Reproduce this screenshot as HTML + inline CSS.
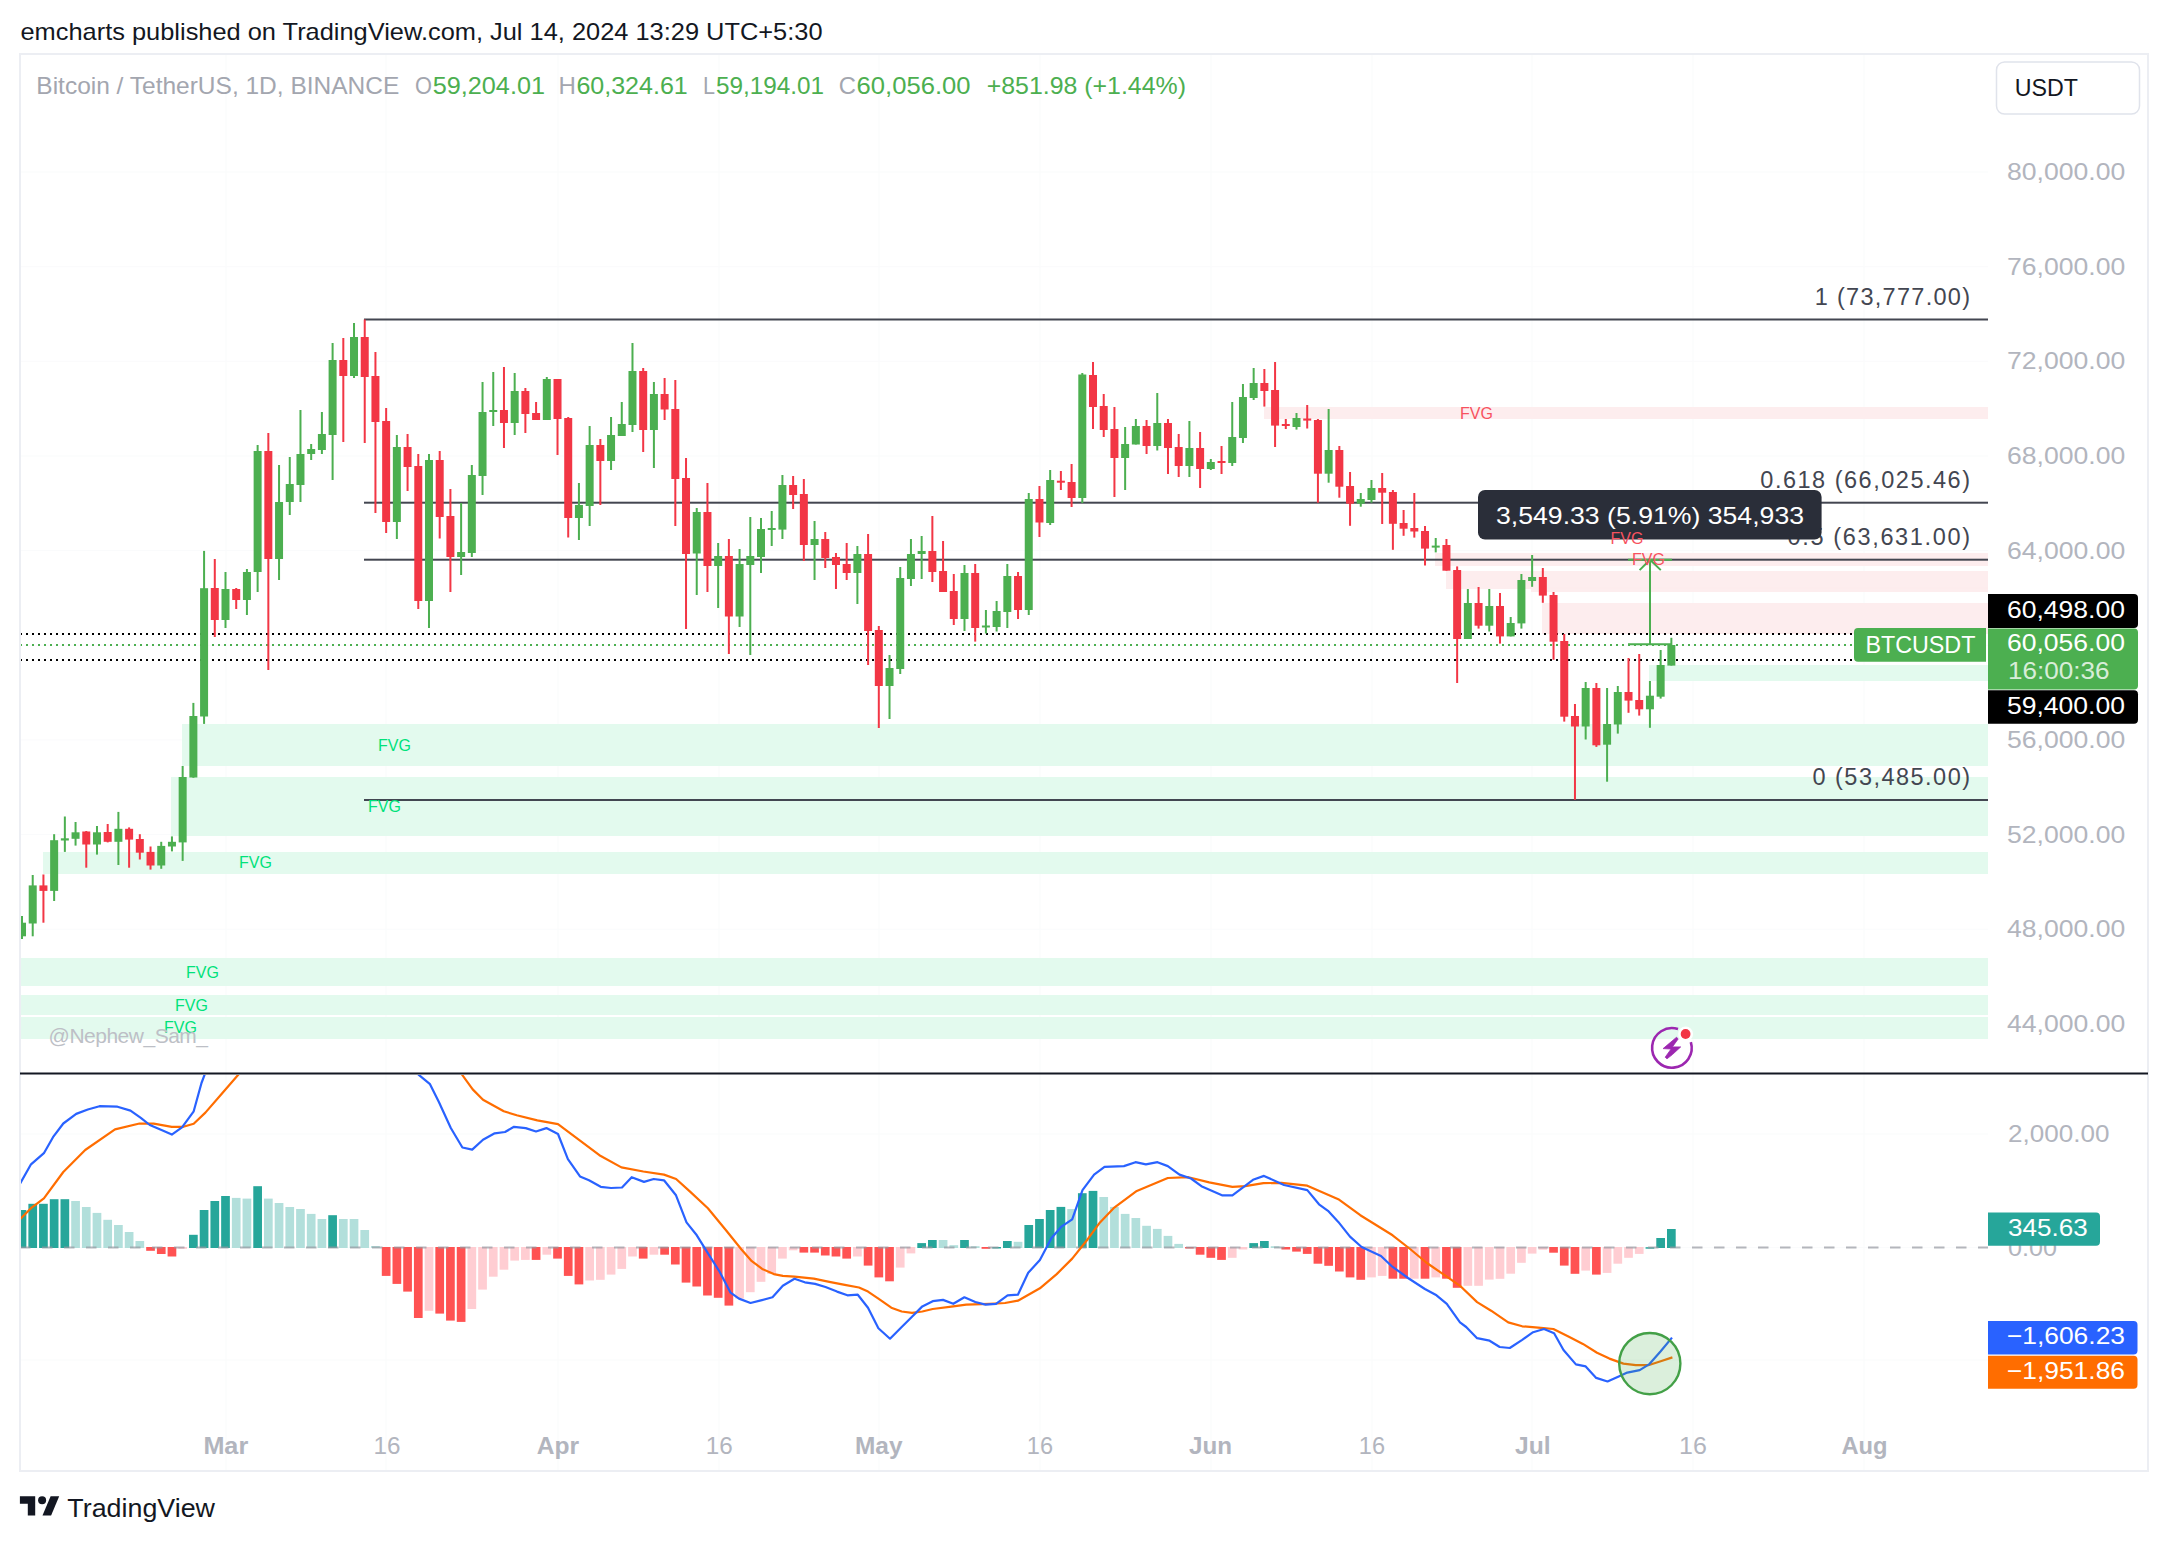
<!DOCTYPE html><html><head><meta charset="utf-8"><style>
html,body{margin:0;padding:0;background:#fff;width:2168px;height:1542px;overflow:hidden}
svg{display:block}text{font-family:"Liberation Sans",sans-serif}
</style></head><body>
<svg width="2168" height="1542" viewBox="0 0 2168 1542">
<defs><clipPath id="pp"><rect x="21" y="55" width="1967" height="1017"/></clipPath>
<clipPath id="mp"><rect x="21" y="1075" width="1967" height="345"/></clipPath></defs>
<rect x="0" y="0" width="2168" height="1542" fill="#fff"/>
<text x="20.5" y="40.4" font-size="24" fill="#131722" textLength="802" lengthAdjust="spacingAndGlyphs">emcharts published on TradingView.com, Jul 14, 2024 13:29 UTC+5:30</text>
<rect x="20" y="54" width="2128" height="1417" fill="none" stroke="#eceef3" stroke-width="2"/>
<rect x="225.5" y="55" width="1" height="1415" fill="#fafbfc"/>
<rect x="385.5" y="55" width="1" height="1415" fill="#fafbfc"/>
<rect x="557.5" y="55" width="1" height="1415" fill="#fafbfc"/>
<rect x="718.5" y="55" width="1" height="1415" fill="#fafbfc"/>
<rect x="878.5" y="55" width="1" height="1415" fill="#fafbfc"/>
<rect x="1039.5" y="55" width="1" height="1415" fill="#fafbfc"/>
<rect x="1210.5" y="55" width="1" height="1415" fill="#fafbfc"/>
<rect x="1371.5" y="55" width="1" height="1415" fill="#fafbfc"/>
<rect x="1531.5" y="55" width="1" height="1415" fill="#fafbfc"/>
<rect x="1692.5" y="55" width="1" height="1415" fill="#fafbfc"/>
<rect x="1863.5" y="55" width="1" height="1415" fill="#fafbfc"/>
<rect x="21" y="171.5" width="1967" height="1" fill="#fafbfc"/>
<rect x="21" y="266.2" width="1967" height="1" fill="#fafbfc"/>
<rect x="21" y="360.8" width="1967" height="1" fill="#fafbfc"/>
<rect x="21" y="455.5" width="1967" height="1" fill="#fafbfc"/>
<rect x="21" y="550.1" width="1967" height="1" fill="#fafbfc"/>
<rect x="21" y="644.8" width="1967" height="1" fill="#fafbfc"/>
<rect x="21" y="739.4" width="1967" height="1" fill="#fafbfc"/>
<rect x="21" y="834.1" width="1967" height="1" fill="#fafbfc"/>
<rect x="21" y="928.7" width="1967" height="1" fill="#fafbfc"/>
<rect x="21" y="1023.4" width="1967" height="1" fill="#fafbfc"/>
<rect x="21" y="1133.5" width="1967" height="1" fill="#fafbfc"/>
<rect x="21" y="1247.0" width="1967" height="1" fill="#fafbfc"/>
<rect x="21" y="1359.5" width="1967" height="1" fill="#fafbfc"/>
<g clip-path="url(#pp)">
<rect x="182" y="724" width="1806" height="42" fill="#e3faee"/>
<rect x="171" y="777" width="1817" height="59" fill="#e3faee"/>
<rect x="43" y="852" width="1945" height="22" fill="#e3faee"/>
<rect x="20" y="958" width="1968" height="28" fill="#e3faee"/>
<rect x="20" y="995" width="1968" height="20" fill="#e3faee"/>
<rect x="20" y="1017" width="1968" height="22" fill="#e3faee"/>
<rect x="1649" y="665" width="339" height="16" fill="#e3faee"/>
<rect x="1264" y="407" width="724" height="12" fill="#fdebec" fill-opacity="0.9"/>
<rect x="1435" y="553" width="553" height="13" fill="#fdebec" fill-opacity="0.9"/>
<rect x="1446" y="571" width="542" height="18" fill="#fdebec" fill-opacity="0.9"/>
<rect x="1531" y="587" width="457" height="5" fill="#fdebec" fill-opacity="0.9"/>
<rect x="1542" y="603" width="446" height="31" fill="#fdebec" fill-opacity="0.9"/>
<rect x="364" y="318.5" width="1624" height="2" fill="#434651"/>
<rect x="364" y="501.7" width="1624" height="2" fill="#434651"/>
<rect x="364" y="558.7" width="1624" height="2" fill="#434651"/>
<rect x="364" y="799.0" width="1624" height="2" fill="#434651"/>
<line x1="21" y1="634" x2="1854" y2="634" stroke="#000" stroke-width="2" stroke-dasharray="2 4" stroke-dashoffset="1"/>
<line x1="21" y1="645" x2="1854" y2="645" stroke="#4caf50" stroke-width="2" stroke-dasharray="2 4" stroke-dashoffset="1"/>
<line x1="21" y1="660" x2="1854" y2="660" stroke="#000" stroke-width="2" stroke-dasharray="2 4" stroke-dashoffset="1"/>
<rect x="21.01" y="916.0" width="2" height="23.0" fill="#4caf50"/>
<rect x="18.01" y="922.7" width="8" height="13.6" fill="#4caf50"/>
<rect x="31.72" y="875.0" width="2" height="61.3" fill="#4caf50"/>
<rect x="28.72" y="885.4" width="8" height="38.1" fill="#4caf50"/>
<rect x="42.43" y="874.5" width="2" height="48.2" fill="#f23645"/>
<rect x="39.43" y="885.4" width="8" height="5.5" fill="#f23645"/>
<rect x="53.14" y="834.2" width="2" height="66.8" fill="#4caf50"/>
<rect x="50.14" y="840.2" width="8" height="50.7" fill="#4caf50"/>
<rect x="63.85" y="816.5" width="2" height="35.4" fill="#4caf50"/>
<rect x="60.85" y="838.3" width="8" height="2.2" fill="#4caf50"/>
<rect x="74.56" y="822.0" width="2" height="23.6" fill="#4caf50"/>
<rect x="71.56" y="832.3" width="8" height="6.5" fill="#4caf50"/>
<rect x="85.27" y="831.0" width="2" height="36.7" fill="#f23645"/>
<rect x="82.27" y="831.5" width="8" height="13.0" fill="#f23645"/>
<rect x="95.98" y="826.0" width="2" height="28.6" fill="#4caf50"/>
<rect x="92.98" y="832.3" width="8" height="12.2" fill="#4caf50"/>
<rect x="106.69" y="824.0" width="2" height="18.4" fill="#f23645"/>
<rect x="103.69" y="832.0" width="8" height="9.8" fill="#f23645"/>
<rect x="117.40" y="811.9" width="2" height="53.1" fill="#4caf50"/>
<rect x="114.40" y="828.8" width="8" height="13.0" fill="#4caf50"/>
<rect x="128.11" y="827.4" width="2" height="40.3" fill="#f23645"/>
<rect x="125.11" y="828.8" width="8" height="10.8" fill="#f23645"/>
<rect x="138.82" y="834.2" width="2" height="25.3" fill="#f23645"/>
<rect x="135.82" y="839.0" width="8" height="13.7" fill="#f23645"/>
<rect x="149.53" y="846.5" width="2" height="23.1" fill="#f23645"/>
<rect x="146.53" y="851.9" width="8" height="13.6" fill="#f23645"/>
<rect x="160.24" y="841.8" width="2" height="27.0" fill="#4caf50"/>
<rect x="157.24" y="845.9" width="8" height="19.6" fill="#4caf50"/>
<rect x="170.95" y="836.4" width="2" height="15.0" fill="#4caf50"/>
<rect x="167.95" y="841.8" width="8" height="4.7" fill="#4caf50"/>
<rect x="181.66" y="766.0" width="2" height="94.9" fill="#4caf50"/>
<rect x="178.66" y="777.0" width="8" height="65.4" fill="#4caf50"/>
<rect x="192.37" y="702.9" width="2" height="74.9" fill="#4caf50"/>
<rect x="189.37" y="716.0" width="8" height="61.5" fill="#4caf50"/>
<rect x="203.08" y="550.9" width="2" height="173.0" fill="#4caf50"/>
<rect x="200.08" y="588.2" width="8" height="128.3" fill="#4caf50"/>
<rect x="213.79" y="559.0" width="2" height="78.0" fill="#f23645"/>
<rect x="210.79" y="588.0" width="8" height="32.0" fill="#f23645"/>
<rect x="224.50" y="572.0" width="2" height="56.0" fill="#4caf50"/>
<rect x="221.50" y="589.0" width="8" height="31.0" fill="#4caf50"/>
<rect x="235.21" y="588.0" width="2" height="21.0" fill="#f23645"/>
<rect x="232.21" y="589.0" width="8" height="11.0" fill="#f23645"/>
<rect x="245.92" y="569.0" width="2" height="46.0" fill="#4caf50"/>
<rect x="242.92" y="572.0" width="8" height="28.0" fill="#4caf50"/>
<rect x="256.63" y="445.0" width="2" height="147.0" fill="#4caf50"/>
<rect x="253.63" y="451.0" width="8" height="121.0" fill="#4caf50"/>
<rect x="267.34" y="433.0" width="2" height="237.0" fill="#f23645"/>
<rect x="264.34" y="451.0" width="8" height="108.0" fill="#f23645"/>
<rect x="278.05" y="465.0" width="2" height="115.0" fill="#4caf50"/>
<rect x="275.05" y="502.0" width="8" height="57.0" fill="#4caf50"/>
<rect x="288.76" y="457.0" width="2" height="58.0" fill="#4caf50"/>
<rect x="285.76" y="484.0" width="8" height="18.0" fill="#4caf50"/>
<rect x="299.47" y="410.0" width="2" height="92.0" fill="#4caf50"/>
<rect x="296.47" y="454.0" width="8" height="31.0" fill="#4caf50"/>
<rect x="310.18" y="444.0" width="2" height="16.0" fill="#4caf50"/>
<rect x="307.18" y="449.0" width="8" height="5.0" fill="#4caf50"/>
<rect x="320.89" y="412.0" width="2" height="42.0" fill="#4caf50"/>
<rect x="317.89" y="434.0" width="8" height="16.0" fill="#4caf50"/>
<rect x="331.60" y="343.0" width="2" height="137.0" fill="#4caf50"/>
<rect x="328.60" y="360.0" width="8" height="75.0" fill="#4caf50"/>
<rect x="342.31" y="338.0" width="2" height="104.0" fill="#f23645"/>
<rect x="339.31" y="360.0" width="8" height="16.0" fill="#f23645"/>
<rect x="353.02" y="323.0" width="2" height="55.0" fill="#4caf50"/>
<rect x="350.02" y="337.0" width="8" height="39.0" fill="#4caf50"/>
<rect x="363.73" y="319.5" width="2" height="123.5" fill="#f23645"/>
<rect x="360.73" y="337.0" width="8" height="40.0" fill="#f23645"/>
<rect x="374.44" y="352.0" width="2" height="161.0" fill="#f23645"/>
<rect x="371.44" y="376.0" width="8" height="46.0" fill="#f23645"/>
<rect x="385.15" y="408.0" width="2" height="125.0" fill="#f23645"/>
<rect x="382.15" y="421.0" width="8" height="101.0" fill="#f23645"/>
<rect x="395.86" y="435.0" width="2" height="104.0" fill="#4caf50"/>
<rect x="392.86" y="447.0" width="8" height="75.0" fill="#4caf50"/>
<rect x="406.57" y="434.0" width="2" height="57.0" fill="#f23645"/>
<rect x="403.57" y="447.0" width="8" height="20.0" fill="#f23645"/>
<rect x="417.28" y="454.0" width="2" height="155.0" fill="#f23645"/>
<rect x="414.28" y="466.0" width="8" height="135.0" fill="#f23645"/>
<rect x="427.99" y="454.0" width="2" height="174.0" fill="#4caf50"/>
<rect x="424.99" y="460.0" width="8" height="141.0" fill="#4caf50"/>
<rect x="438.70" y="451.0" width="2" height="87.5" fill="#f23645"/>
<rect x="435.70" y="460.0" width="8" height="57.0" fill="#f23645"/>
<rect x="449.41" y="489.0" width="2" height="103.0" fill="#f23645"/>
<rect x="446.41" y="516.0" width="8" height="41.0" fill="#f23645"/>
<rect x="460.12" y="503.0" width="2" height="72.0" fill="#4caf50"/>
<rect x="457.12" y="552.0" width="8" height="5.0" fill="#4caf50"/>
<rect x="470.83" y="465.0" width="2" height="92.0" fill="#4caf50"/>
<rect x="467.83" y="475.0" width="8" height="78.0" fill="#4caf50"/>
<rect x="481.54" y="382.0" width="2" height="113.0" fill="#4caf50"/>
<rect x="478.54" y="412.0" width="8" height="64.0" fill="#4caf50"/>
<rect x="492.25" y="372.0" width="2" height="54.0" fill="#4caf50"/>
<rect x="489.25" y="410.0" width="8" height="2.0" fill="#4caf50"/>
<rect x="502.96" y="367.0" width="2" height="81.0" fill="#f23645"/>
<rect x="499.96" y="410.0" width="8" height="13.0" fill="#f23645"/>
<rect x="513.67" y="373.0" width="2" height="62.0" fill="#4caf50"/>
<rect x="510.67" y="391.0" width="8" height="32.0" fill="#4caf50"/>
<rect x="524.38" y="388.0" width="2" height="45.0" fill="#f23645"/>
<rect x="521.38" y="391.0" width="8" height="23.0" fill="#f23645"/>
<rect x="535.09" y="402.0" width="2" height="18.0" fill="#f23645"/>
<rect x="532.09" y="413.0" width="8" height="7.0" fill="#f23645"/>
<rect x="545.80" y="377.0" width="2" height="43.0" fill="#4caf50"/>
<rect x="542.80" y="379.0" width="8" height="41.0" fill="#4caf50"/>
<rect x="556.51" y="379.0" width="2" height="76.0" fill="#f23645"/>
<rect x="553.51" y="379.0" width="8" height="40.0" fill="#f23645"/>
<rect x="567.22" y="417.0" width="2" height="120.5" fill="#f23645"/>
<rect x="564.22" y="418.0" width="8" height="100.0" fill="#f23645"/>
<rect x="577.93" y="483.0" width="2" height="57.0" fill="#4caf50"/>
<rect x="574.93" y="505.0" width="8" height="13.0" fill="#4caf50"/>
<rect x="588.64" y="426.0" width="2" height="100.0" fill="#4caf50"/>
<rect x="585.64" y="445.0" width="8" height="61.0" fill="#4caf50"/>
<rect x="599.35" y="439.0" width="2" height="66.0" fill="#f23645"/>
<rect x="596.35" y="445.0" width="8" height="16.0" fill="#f23645"/>
<rect x="610.06" y="417.0" width="2" height="53.0" fill="#4caf50"/>
<rect x="607.06" y="435.0" width="8" height="26.0" fill="#4caf50"/>
<rect x="620.77" y="402.0" width="2" height="34.0" fill="#4caf50"/>
<rect x="617.77" y="424.0" width="8" height="12.0" fill="#4caf50"/>
<rect x="631.48" y="343.0" width="2" height="89.0" fill="#4caf50"/>
<rect x="628.48" y="371.0" width="8" height="54.0" fill="#4caf50"/>
<rect x="642.19" y="368.0" width="2" height="84.0" fill="#f23645"/>
<rect x="639.19" y="371.0" width="8" height="59.0" fill="#f23645"/>
<rect x="652.90" y="382.0" width="2" height="86.0" fill="#4caf50"/>
<rect x="649.90" y="394.0" width="8" height="36.0" fill="#4caf50"/>
<rect x="663.61" y="378.0" width="2" height="42.0" fill="#f23645"/>
<rect x="660.61" y="394.0" width="8" height="15.5" fill="#f23645"/>
<rect x="674.32" y="380.0" width="2" height="146.0" fill="#f23645"/>
<rect x="671.32" y="409.0" width="8" height="70.0" fill="#f23645"/>
<rect x="685.03" y="458.0" width="2" height="171.0" fill="#f23645"/>
<rect x="682.03" y="478.0" width="8" height="76.0" fill="#f23645"/>
<rect x="695.74" y="508.0" width="2" height="87.0" fill="#4caf50"/>
<rect x="692.74" y="512.0" width="8" height="41.5" fill="#4caf50"/>
<rect x="706.45" y="483.0" width="2" height="109.0" fill="#f23645"/>
<rect x="703.45" y="512.0" width="8" height="54.0" fill="#f23645"/>
<rect x="717.16" y="543.0" width="2" height="65.0" fill="#4caf50"/>
<rect x="714.16" y="556.0" width="8" height="10.0" fill="#4caf50"/>
<rect x="727.87" y="539.0" width="2" height="115.0" fill="#f23645"/>
<rect x="724.87" y="556.0" width="8" height="60.5" fill="#f23645"/>
<rect x="738.58" y="549.0" width="2" height="78.0" fill="#4caf50"/>
<rect x="735.58" y="564.0" width="8" height="52.5" fill="#4caf50"/>
<rect x="749.29" y="517.0" width="2" height="138.0" fill="#4caf50"/>
<rect x="746.29" y="556.0" width="8" height="9.0" fill="#4caf50"/>
<rect x="760.00" y="518.0" width="2" height="55.0" fill="#4caf50"/>
<rect x="757.00" y="529.0" width="8" height="28.0" fill="#4caf50"/>
<rect x="770.71" y="511.0" width="2" height="35.0" fill="#4caf50"/>
<rect x="767.71" y="528.0" width="8" height="2.0" fill="#4caf50"/>
<rect x="781.42" y="475.0" width="2" height="64.0" fill="#4caf50"/>
<rect x="778.42" y="485.0" width="8" height="44.6" fill="#4caf50"/>
<rect x="792.13" y="476.0" width="2" height="33.0" fill="#f23645"/>
<rect x="789.13" y="485.0" width="8" height="10.0" fill="#f23645"/>
<rect x="802.84" y="479.0" width="2" height="82.0" fill="#f23645"/>
<rect x="799.84" y="494.0" width="8" height="51.0" fill="#f23645"/>
<rect x="813.55" y="521.0" width="2" height="59.0" fill="#4caf50"/>
<rect x="810.55" y="539.0" width="8" height="6.0" fill="#4caf50"/>
<rect x="824.26" y="532.0" width="2" height="36.0" fill="#f23645"/>
<rect x="821.26" y="539.0" width="8" height="19.0" fill="#f23645"/>
<rect x="834.97" y="553.0" width="2" height="36.0" fill="#f23645"/>
<rect x="831.97" y="557.0" width="8" height="8.0" fill="#f23645"/>
<rect x="845.68" y="543.0" width="2" height="37.0" fill="#f23645"/>
<rect x="842.68" y="564.0" width="8" height="9.0" fill="#f23645"/>
<rect x="856.39" y="546.0" width="2" height="58.0" fill="#4caf50"/>
<rect x="853.39" y="554.0" width="8" height="19.0" fill="#4caf50"/>
<rect x="867.10" y="534.0" width="2" height="131.0" fill="#f23645"/>
<rect x="864.10" y="554.0" width="8" height="77.0" fill="#f23645"/>
<rect x="877.81" y="626.0" width="2" height="102.0" fill="#f23645"/>
<rect x="874.81" y="630.0" width="8" height="56.0" fill="#f23645"/>
<rect x="888.52" y="655.0" width="2" height="64.0" fill="#4caf50"/>
<rect x="885.52" y="668.0" width="8" height="18.0" fill="#4caf50"/>
<rect x="899.23" y="567.0" width="2" height="107.0" fill="#4caf50"/>
<rect x="896.23" y="578.0" width="8" height="91.0" fill="#4caf50"/>
<rect x="909.94" y="539.0" width="2" height="47.0" fill="#4caf50"/>
<rect x="906.94" y="554.0" width="8" height="25.0" fill="#4caf50"/>
<rect x="920.65" y="536.0" width="2" height="43.0" fill="#4caf50"/>
<rect x="917.65" y="551.0" width="8" height="3.0" fill="#4caf50"/>
<rect x="931.36" y="516.0" width="2" height="66.0" fill="#f23645"/>
<rect x="928.36" y="551.0" width="8" height="21.0" fill="#f23645"/>
<rect x="942.07" y="541.0" width="2" height="51.0" fill="#f23645"/>
<rect x="939.07" y="571.0" width="8" height="21.0" fill="#f23645"/>
<rect x="952.78" y="574.0" width="2" height="51.0" fill="#f23645"/>
<rect x="949.78" y="591.0" width="8" height="28.0" fill="#f23645"/>
<rect x="963.49" y="565.0" width="2" height="66.0" fill="#4caf50"/>
<rect x="960.49" y="573.0" width="8" height="46.0" fill="#4caf50"/>
<rect x="974.20" y="564.0" width="2" height="77.6" fill="#f23645"/>
<rect x="971.20" y="573.0" width="8" height="55.0" fill="#f23645"/>
<rect x="984.91" y="610.0" width="2" height="23.5" fill="#4caf50"/>
<rect x="981.91" y="625.5" width="8" height="2.0" fill="#4caf50"/>
<rect x="995.62" y="601.0" width="2" height="30.5" fill="#4caf50"/>
<rect x="992.62" y="611.0" width="8" height="16.0" fill="#4caf50"/>
<rect x="1006.33" y="564.0" width="2" height="64.0" fill="#4caf50"/>
<rect x="1003.33" y="576.0" width="8" height="36.0" fill="#4caf50"/>
<rect x="1017.04" y="572.0" width="2" height="47.0" fill="#f23645"/>
<rect x="1014.04" y="576.0" width="8" height="34.0" fill="#f23645"/>
<rect x="1027.75" y="493.0" width="2" height="122.0" fill="#4caf50"/>
<rect x="1024.75" y="499.0" width="8" height="111.0" fill="#4caf50"/>
<rect x="1038.46" y="486.0" width="2" height="51.0" fill="#f23645"/>
<rect x="1035.46" y="499.0" width="8" height="23.5" fill="#f23645"/>
<rect x="1049.17" y="470.0" width="2" height="55.0" fill="#4caf50"/>
<rect x="1046.17" y="480.0" width="8" height="43.0" fill="#4caf50"/>
<rect x="1059.88" y="471.0" width="2" height="19.0" fill="#f23645"/>
<rect x="1056.88" y="480.7" width="8" height="2.0" fill="#f23645"/>
<rect x="1070.59" y="464.0" width="2" height="43.0" fill="#f23645"/>
<rect x="1067.59" y="482.0" width="8" height="16.0" fill="#f23645"/>
<rect x="1081.30" y="373.0" width="2" height="130.0" fill="#4caf50"/>
<rect x="1078.30" y="374.5" width="8" height="123.5" fill="#4caf50"/>
<rect x="1092.01" y="362.0" width="2" height="67.0" fill="#f23645"/>
<rect x="1089.01" y="375.0" width="8" height="32.0" fill="#f23645"/>
<rect x="1102.72" y="394.0" width="2" height="43.0" fill="#f23645"/>
<rect x="1099.72" y="406.0" width="8" height="24.0" fill="#f23645"/>
<rect x="1113.43" y="407.0" width="2" height="90.0" fill="#f23645"/>
<rect x="1110.43" y="429.0" width="8" height="29.0" fill="#f23645"/>
<rect x="1124.14" y="427.0" width="2" height="63.0" fill="#4caf50"/>
<rect x="1121.14" y="444.0" width="8" height="14.0" fill="#4caf50"/>
<rect x="1134.85" y="419.0" width="2" height="25.5" fill="#4caf50"/>
<rect x="1131.85" y="426.0" width="8" height="18.5" fill="#4caf50"/>
<rect x="1145.56" y="420.0" width="2" height="34.0" fill="#f23645"/>
<rect x="1142.56" y="426.0" width="8" height="20.0" fill="#f23645"/>
<rect x="1156.27" y="393.0" width="2" height="57.5" fill="#4caf50"/>
<rect x="1153.27" y="423.0" width="8" height="23.0" fill="#4caf50"/>
<rect x="1166.98" y="419.0" width="2" height="55.0" fill="#f23645"/>
<rect x="1163.98" y="423.0" width="8" height="25.0" fill="#f23645"/>
<rect x="1177.69" y="434.0" width="2" height="43.0" fill="#f23645"/>
<rect x="1174.69" y="447.0" width="8" height="19.0" fill="#f23645"/>
<rect x="1188.40" y="421.0" width="2" height="56.0" fill="#4caf50"/>
<rect x="1185.40" y="448.0" width="8" height="18.0" fill="#4caf50"/>
<rect x="1199.11" y="432.0" width="2" height="56.0" fill="#f23645"/>
<rect x="1196.11" y="448.0" width="8" height="21.0" fill="#f23645"/>
<rect x="1209.82" y="459.0" width="2" height="11.0" fill="#4caf50"/>
<rect x="1206.82" y="462.0" width="8" height="7.0" fill="#4caf50"/>
<rect x="1220.53" y="446.0" width="2" height="28.0" fill="#f23645"/>
<rect x="1217.53" y="461.0" width="8" height="2.0" fill="#f23645"/>
<rect x="1231.24" y="402.0" width="2" height="64.0" fill="#4caf50"/>
<rect x="1228.24" y="437.0" width="8" height="26.0" fill="#4caf50"/>
<rect x="1241.95" y="384.0" width="2" height="59.0" fill="#4caf50"/>
<rect x="1238.95" y="397.0" width="8" height="41.0" fill="#4caf50"/>
<rect x="1252.66" y="368.0" width="2" height="32.0" fill="#4caf50"/>
<rect x="1249.66" y="383.0" width="8" height="15.0" fill="#4caf50"/>
<rect x="1263.37" y="369.0" width="2" height="37.6" fill="#f23645"/>
<rect x="1260.37" y="383.0" width="8" height="8.0" fill="#f23645"/>
<rect x="1274.08" y="362.0" width="2" height="85.0" fill="#f23645"/>
<rect x="1271.08" y="390.0" width="8" height="35.6" fill="#f23645"/>
<rect x="1284.79" y="419.0" width="2" height="10.0" fill="#f23645"/>
<rect x="1281.79" y="424.0" width="8" height="2.0" fill="#f23645"/>
<rect x="1295.50" y="413.0" width="2" height="16.6" fill="#4caf50"/>
<rect x="1292.50" y="418.0" width="8" height="9.0" fill="#4caf50"/>
<rect x="1306.21" y="405.0" width="2" height="23.5" fill="#f23645"/>
<rect x="1303.21" y="418.5" width="8" height="2.1" fill="#f23645"/>
<rect x="1316.92" y="419.0" width="2" height="83.7" fill="#f23645"/>
<rect x="1313.92" y="420.0" width="8" height="53.7" fill="#f23645"/>
<rect x="1327.63" y="409.0" width="2" height="73.7" fill="#4caf50"/>
<rect x="1324.63" y="450.0" width="8" height="23.7" fill="#4caf50"/>
<rect x="1338.34" y="446.0" width="2" height="51.7" fill="#f23645"/>
<rect x="1335.34" y="450.0" width="8" height="36.7" fill="#f23645"/>
<rect x="1349.05" y="472.0" width="2" height="53.8" fill="#f23645"/>
<rect x="1346.05" y="486.0" width="8" height="17.7" fill="#f23645"/>
<rect x="1359.76" y="493.0" width="2" height="13.7" fill="#4caf50"/>
<rect x="1356.76" y="499.0" width="8" height="4.7" fill="#4caf50"/>
<rect x="1370.47" y="480.0" width="2" height="22.7" fill="#4caf50"/>
<rect x="1367.47" y="488.0" width="8" height="12.0" fill="#4caf50"/>
<rect x="1381.18" y="473.0" width="2" height="51.0" fill="#f23645"/>
<rect x="1378.18" y="488.0" width="8" height="4.7" fill="#f23645"/>
<rect x="1391.89" y="490.0" width="2" height="59.8" fill="#f23645"/>
<rect x="1388.89" y="492.0" width="8" height="31.8" fill="#f23645"/>
<rect x="1402.60" y="510.0" width="2" height="25.8" fill="#f23645"/>
<rect x="1399.60" y="523.0" width="8" height="5.7" fill="#f23645"/>
<rect x="1413.31" y="493.0" width="2" height="44.6" fill="#f23645"/>
<rect x="1410.31" y="528.0" width="8" height="3.5" fill="#f23645"/>
<rect x="1424.02" y="526.0" width="2" height="39.5" fill="#f23645"/>
<rect x="1421.02" y="531.0" width="8" height="17.6" fill="#f23645"/>
<rect x="1434.73" y="538.0" width="2" height="14.4" fill="#4caf50"/>
<rect x="1431.73" y="545.6" width="8" height="2.0" fill="#4caf50"/>
<rect x="1445.44" y="539.0" width="2" height="31.7" fill="#f23645"/>
<rect x="1442.44" y="545.0" width="8" height="25.7" fill="#f23645"/>
<rect x="1456.15" y="566.4" width="2" height="116.6" fill="#f23645"/>
<rect x="1453.15" y="570.0" width="8" height="69.0" fill="#f23645"/>
<rect x="1466.86" y="589.0" width="2" height="50.0" fill="#4caf50"/>
<rect x="1463.86" y="603.0" width="8" height="36.0" fill="#4caf50"/>
<rect x="1477.57" y="587.0" width="2" height="41.6" fill="#f23645"/>
<rect x="1474.57" y="603.0" width="8" height="22.7" fill="#f23645"/>
<rect x="1488.28" y="589.0" width="2" height="42.5" fill="#4caf50"/>
<rect x="1485.28" y="606.0" width="8" height="19.7" fill="#4caf50"/>
<rect x="1498.99" y="593.0" width="2" height="50.6" fill="#f23645"/>
<rect x="1495.99" y="606.0" width="8" height="30.4" fill="#f23645"/>
<rect x="1509.70" y="617.0" width="2" height="19.4" fill="#4caf50"/>
<rect x="1506.70" y="623.0" width="8" height="13.4" fill="#4caf50"/>
<rect x="1520.41" y="574.0" width="2" height="54.6" fill="#4caf50"/>
<rect x="1517.41" y="580.0" width="8" height="43.4" fill="#4caf50"/>
<rect x="1531.12" y="555.0" width="2" height="31.8" fill="#4caf50"/>
<rect x="1528.12" y="577.0" width="8" height="4.0" fill="#4caf50"/>
<rect x="1541.83" y="568.0" width="2" height="34.8" fill="#f23645"/>
<rect x="1538.83" y="577.0" width="8" height="18.6" fill="#f23645"/>
<rect x="1552.54" y="592.0" width="2" height="67.7" fill="#f23645"/>
<rect x="1549.54" y="595.0" width="8" height="46.7" fill="#f23645"/>
<rect x="1563.25" y="634.0" width="2" height="87.6" fill="#f23645"/>
<rect x="1560.25" y="641.0" width="8" height="75.7" fill="#f23645"/>
<rect x="1573.96" y="704.0" width="2" height="95.8" fill="#f23645"/>
<rect x="1570.96" y="716.0" width="8" height="10.5" fill="#f23645"/>
<rect x="1584.67" y="682.0" width="2" height="57.5" fill="#4caf50"/>
<rect x="1581.67" y="688.0" width="8" height="38.5" fill="#4caf50"/>
<rect x="1595.38" y="683.0" width="2" height="63.9" fill="#f23645"/>
<rect x="1592.38" y="688.0" width="8" height="57.3" fill="#f23645"/>
<rect x="1606.09" y="688.0" width="2" height="93.7" fill="#4caf50"/>
<rect x="1603.09" y="724.0" width="8" height="20.7" fill="#4caf50"/>
<rect x="1616.80" y="686.0" width="2" height="47.6" fill="#4caf50"/>
<rect x="1613.80" y="692.0" width="8" height="32.5" fill="#4caf50"/>
<rect x="1627.51" y="658.0" width="2" height="54.8" fill="#f23645"/>
<rect x="1624.51" y="692.0" width="8" height="8.6" fill="#f23645"/>
<rect x="1638.22" y="654.0" width="2" height="61.6" fill="#f23645"/>
<rect x="1635.22" y="700.0" width="8" height="9.3" fill="#f23645"/>
<rect x="1648.93" y="681.0" width="2" height="46.8" fill="#4caf50"/>
<rect x="1645.93" y="695.7" width="8" height="13.6" fill="#4caf50"/>
<rect x="1659.64" y="650.0" width="2" height="48.6" fill="#4caf50"/>
<rect x="1656.64" y="665.0" width="8" height="31.7" fill="#4caf50"/>
<rect x="1670.35" y="637.8" width="2" height="27.8" fill="#4caf50"/>
<rect x="1667.35" y="645.0" width="8" height="20.6" fill="#4caf50"/>
<g stroke="#4caf50" stroke-width="2" fill="none"><path d="M1628 559.7H1672M1650 559.7V644.2M1628 644.2H1672M1639.6 570.1L1650 559.7L1660.8 570.1"/></g>
<text x="394.5" y="751.3" font-size="16" fill="#00e27a" text-anchor="middle">FVG</text>
<text x="384.5" y="811.8" font-size="16" fill="#00e27a" text-anchor="middle">FVG</text>
<text x="255.5" y="867.8" font-size="16" fill="#00e27a" text-anchor="middle">FVG</text>
<text x="202.5" y="977.8" font-size="16" fill="#00e27a" text-anchor="middle">FVG</text>
<text x="191.5" y="1010.5" font-size="16" fill="#00e27a" text-anchor="middle">FVG</text>
<text x="180.5" y="1032.8" font-size="16" fill="#00e27a" text-anchor="middle">FVG</text>
<text x="1476.5" y="418.8" font-size="16" fill="#f7525f" text-anchor="middle">FVG</text>
<text x="1814.8" y="304.8" font-size="23.5" fill="#434651" textLength="155.2" lengthAdjust="spacing">1 (73,777.00)</text>
<text x="1760.3" y="488.1" font-size="23.5" fill="#434651" textLength="209.7" lengthAdjust="spacing">0.618 (66,025.46)</text>
<text x="1787.5" y="545.3" font-size="23.5" fill="#434651" textLength="182.5" lengthAdjust="spacing">0.5 (63,631.00)</text>
<text x="1812.5" y="785.3" font-size="23.5" fill="#434651" textLength="157.5" lengthAdjust="spacing">0 (53,485.00)</text>
<rect x="1478" y="490" width="343.6" height="49.6" rx="7" fill="#2a2e39"/>
<text x="1496" y="524" font-size="24" fill="#fff" textLength="308" lengthAdjust="spacingAndGlyphs">3,549.33 (5.91%) 354,933</text>
<text x="1627" y="543.8" font-size="16" fill="#f7525f" text-anchor="middle">FVG</text>
<text x="1648.5" y="564.8" font-size="16" fill="#f7525f" text-anchor="middle">FVG</text>
<text x="48.6" y="1042.7" font-size="21" fill="#bdbfc6" textLength="159.4" lengthAdjust="spacing">@Nephew_Sam_</text>
<circle cx="1671.9" cy="1047.9" r="19.5" fill="#fff" fill-opacity="0.0"/>
<path d="M1690.83 1042.11 A19.8 19.8 0 1 1 1678.02 1029.07" fill="none" stroke="#9c27b0" stroke-width="2.6"/>
<path d="M1676.6 1037.2 L1678.1 1039.1 L1672.4 1046.9 L1680.7 1046.9 L1672.4 1054.6 L1667 1058.8 L1665.2 1057.2 L1671.1 1049.0 L1663.1 1048.6 Z" fill="#9c27b0" stroke="#9c27b0" stroke-width="0.8" stroke-linejoin="round"/>
<circle cx="1685.6" cy="1034" r="7.5" fill="#fff"/><circle cx="1685.6" cy="1034" r="4.9" fill="#f23645"/>
</g>
<text x="2007" y="179.9" font-size="24" fill="#b2b5be" textLength="118.3" lengthAdjust="spacingAndGlyphs">80,000.00</text>
<text x="2007" y="274.6" font-size="24" fill="#b2b5be" textLength="118.3" lengthAdjust="spacingAndGlyphs">76,000.00</text>
<text x="2007" y="369.2" font-size="24" fill="#b2b5be" textLength="118.3" lengthAdjust="spacingAndGlyphs">72,000.00</text>
<text x="2007" y="463.9" font-size="24" fill="#b2b5be" textLength="118.3" lengthAdjust="spacingAndGlyphs">68,000.00</text>
<text x="2007" y="558.5" font-size="24" fill="#b2b5be" textLength="118.3" lengthAdjust="spacingAndGlyphs">64,000.00</text>
<text x="2007" y="747.8" font-size="24" fill="#b2b5be" textLength="118.3" lengthAdjust="spacingAndGlyphs">56,000.00</text>
<text x="2007" y="842.5" font-size="24" fill="#b2b5be" textLength="118.3" lengthAdjust="spacingAndGlyphs">52,000.00</text>
<text x="2007" y="937.1" font-size="24" fill="#b2b5be" textLength="118.3" lengthAdjust="spacingAndGlyphs">48,000.00</text>
<text x="2007" y="1031.8" font-size="24" fill="#b2b5be" textLength="118.3" lengthAdjust="spacingAndGlyphs">44,000.00</text>
<path d="M1988 594H2134Q2138 594 2138 598V624Q2138 628 2134 628H1988Z" fill="#000"/>
<path d="M1988 628.6H2134Q2138 628.6 2138 632.6V685.4Q2138 689.4 2134 689.4H1988Z" fill="#4caf50"/>
<path d="M1988 690.3H2134Q2138 690.3 2138 694.3V719.7Q2138 723.7 2134 723.7H1988Z" fill="#000"/>
<path d="M1986 628V661.7H1858Q1854 661.7 1854 657.7V632Q1854 628 1858 628Z" fill="#4caf50"/>
<text x="2007" y="618.3" font-size="24" fill="#fff" textLength="118" lengthAdjust="spacingAndGlyphs">60,498.00</text>
<text x="2007" y="651.4" font-size="24" fill="#fff" textLength="118" lengthAdjust="spacingAndGlyphs">60,056.00</text>
<text x="2008" y="679" font-size="24" fill="#fff" fill-opacity="0.8" textLength="101.5" lengthAdjust="spacingAndGlyphs">16:00:36</text>
<text x="2007" y="713.6" font-size="24" fill="#fff" textLength="118" lengthAdjust="spacingAndGlyphs">59,400.00</text>
<text x="1865.4" y="653" font-size="24" fill="#fff" textLength="110" lengthAdjust="spacingAndGlyphs">BTCUSDT</text>
<rect x="20" y="1072.5" width="2128" height="2" fill="#131722"/>
<g clip-path="url(#mp)">
<rect x="17.66" y="1210.0" width="8.7" height="38.0" fill="#26a69a"/>
<rect x="28.37" y="1203.8" width="8.7" height="44.2" fill="#26a69a"/>
<rect x="39.08" y="1203.8" width="8.7" height="44.2" fill="#26a69a"/>
<rect x="49.79" y="1199.2" width="8.7" height="48.8" fill="#26a69a"/>
<rect x="60.50" y="1199.2" width="8.7" height="48.8" fill="#26a69a"/>
<rect x="71.21" y="1201.0" width="8.7" height="47.0" fill="#b2dfdb"/>
<rect x="81.92" y="1207.0" width="8.7" height="41.0" fill="#b2dfdb"/>
<rect x="92.63" y="1212.9" width="8.7" height="35.1" fill="#b2dfdb"/>
<rect x="103.34" y="1219.8" width="8.7" height="28.2" fill="#b2dfdb"/>
<rect x="114.05" y="1225.0" width="8.7" height="23.0" fill="#b2dfdb"/>
<rect x="124.76" y="1232.0" width="8.7" height="16.0" fill="#b2dfdb"/>
<rect x="135.47" y="1241.0" width="8.7" height="7.0" fill="#b2dfdb"/>
<rect x="146.18" y="1247.0" width="8.7" height="3.8" fill="#ff5252"/>
<rect x="156.89" y="1247.0" width="8.7" height="7.0" fill="#ff5252"/>
<rect x="167.60" y="1247.0" width="8.7" height="9.5" fill="#ff5252"/>
<rect x="178.31" y="1247.0" width="8.7" height="1.8" fill="#ffcdd2"/>
<rect x="189.02" y="1234.8" width="8.7" height="13.2" fill="#26a69a"/>
<rect x="199.73" y="1210.0" width="8.7" height="38.0" fill="#26a69a"/>
<rect x="210.44" y="1201.0" width="8.7" height="47.0" fill="#26a69a"/>
<rect x="221.15" y="1196.0" width="8.7" height="52.0" fill="#26a69a"/>
<rect x="231.86" y="1197.9" width="8.7" height="50.1" fill="#b2dfdb"/>
<rect x="242.57" y="1198.6" width="8.7" height="49.4" fill="#b2dfdb"/>
<rect x="253.28" y="1186.2" width="8.7" height="61.8" fill="#26a69a"/>
<rect x="263.99" y="1198.6" width="8.7" height="49.4" fill="#b2dfdb"/>
<rect x="274.70" y="1203.0" width="8.7" height="45.0" fill="#b2dfdb"/>
<rect x="285.41" y="1207.0" width="8.7" height="41.0" fill="#b2dfdb"/>
<rect x="296.12" y="1209.0" width="8.7" height="39.0" fill="#b2dfdb"/>
<rect x="306.83" y="1213.9" width="8.7" height="34.1" fill="#b2dfdb"/>
<rect x="317.54" y="1219.0" width="8.7" height="29.0" fill="#b2dfdb"/>
<rect x="328.25" y="1215.2" width="8.7" height="32.8" fill="#26a69a"/>
<rect x="338.96" y="1219.0" width="8.7" height="29.0" fill="#b2dfdb"/>
<rect x="349.67" y="1219.0" width="8.7" height="29.0" fill="#b2dfdb"/>
<rect x="360.38" y="1230.0" width="8.7" height="18.0" fill="#b2dfdb"/>
<rect x="371.09" y="1246.0" width="8.7" height="2.0" fill="#b2dfdb"/>
<rect x="381.80" y="1247.0" width="8.7" height="28.9" fill="#ff5252"/>
<rect x="392.51" y="1247.0" width="8.7" height="36.9" fill="#ff5252"/>
<rect x="403.22" y="1247.0" width="8.7" height="44.6" fill="#ff5252"/>
<rect x="413.93" y="1247.0" width="8.7" height="71.0" fill="#ff5252"/>
<rect x="424.64" y="1247.0" width="8.7" height="63.8" fill="#ffcdd2"/>
<rect x="435.35" y="1247.0" width="8.7" height="66.6" fill="#ff5252"/>
<rect x="446.06" y="1247.0" width="8.7" height="73.6" fill="#ff5252"/>
<rect x="456.77" y="1247.0" width="8.7" height="74.9" fill="#ff5252"/>
<rect x="467.48" y="1247.0" width="8.7" height="62.0" fill="#ffcdd2"/>
<rect x="478.19" y="1247.0" width="8.7" height="42.6" fill="#ffcdd2"/>
<rect x="488.90" y="1247.0" width="8.7" height="29.7" fill="#ffcdd2"/>
<rect x="499.61" y="1247.0" width="8.7" height="22.7" fill="#ffcdd2"/>
<rect x="510.32" y="1247.0" width="8.7" height="13.6" fill="#ffcdd2"/>
<rect x="521.03" y="1247.0" width="8.7" height="12.9" fill="#ffcdd2"/>
<rect x="531.74" y="1247.0" width="8.7" height="12.9" fill="#ff5252"/>
<rect x="542.45" y="1247.0" width="8.7" height="7.7" fill="#ffcdd2"/>
<rect x="553.16" y="1247.0" width="8.7" height="11.6" fill="#ff5252"/>
<rect x="563.87" y="1247.0" width="8.7" height="28.9" fill="#ff5252"/>
<rect x="574.58" y="1247.0" width="8.7" height="37.4" fill="#ff5252"/>
<rect x="585.29" y="1247.0" width="8.7" height="33.5" fill="#ffcdd2"/>
<rect x="596.00" y="1247.0" width="8.7" height="32.8" fill="#ffcdd2"/>
<rect x="606.71" y="1247.0" width="8.7" height="27.6" fill="#ffcdd2"/>
<rect x="617.42" y="1247.0" width="8.7" height="21.9" fill="#ffcdd2"/>
<rect x="628.13" y="1247.0" width="8.7" height="9.5" fill="#ffcdd2"/>
<rect x="638.84" y="1247.0" width="8.7" height="11.6" fill="#ff5252"/>
<rect x="649.55" y="1247.0" width="8.7" height="7.7" fill="#ffcdd2"/>
<rect x="660.26" y="1247.0" width="8.7" height="7.7" fill="#ff5252"/>
<rect x="670.97" y="1247.0" width="8.7" height="17.5" fill="#ff5252"/>
<rect x="681.68" y="1247.0" width="8.7" height="35.6" fill="#ff5252"/>
<rect x="692.39" y="1247.0" width="8.7" height="39.5" fill="#ff5252"/>
<rect x="703.10" y="1247.0" width="8.7" height="48.5" fill="#ff5252"/>
<rect x="713.81" y="1247.0" width="8.7" height="50.8" fill="#ff5252"/>
<rect x="724.52" y="1247.0" width="8.7" height="58.6" fill="#ff5252"/>
<rect x="735.23" y="1247.0" width="8.7" height="51.6" fill="#ffcdd2"/>
<rect x="745.94" y="1247.0" width="8.7" height="45.2" fill="#ffcdd2"/>
<rect x="756.65" y="1247.0" width="8.7" height="34.8" fill="#ffcdd2"/>
<rect x="767.36" y="1247.0" width="8.7" height="27.0" fill="#ffcdd2"/>
<rect x="778.07" y="1247.0" width="8.7" height="11.6" fill="#ffcdd2"/>
<rect x="788.78" y="1247.0" width="8.7" height="3.3" fill="#ffcdd2"/>
<rect x="799.49" y="1247.0" width="8.7" height="5.6" fill="#ff5252"/>
<rect x="810.20" y="1247.0" width="8.7" height="5.6" fill="#ff5252"/>
<rect x="820.91" y="1247.0" width="8.7" height="8.5" fill="#ff5252"/>
<rect x="831.62" y="1247.0" width="8.7" height="9.5" fill="#ff5252"/>
<rect x="842.33" y="1247.0" width="8.7" height="11.6" fill="#ff5252"/>
<rect x="853.04" y="1247.0" width="8.7" height="9.5" fill="#ffcdd2"/>
<rect x="863.75" y="1247.0" width="8.7" height="18.6" fill="#ff5252"/>
<rect x="874.46" y="1247.0" width="8.7" height="30.4" fill="#ff5252"/>
<rect x="885.17" y="1247.0" width="8.7" height="34.3" fill="#ff5252"/>
<rect x="895.88" y="1247.0" width="8.7" height="20.6" fill="#ffcdd2"/>
<rect x="906.59" y="1247.0" width="8.7" height="6.4" fill="#ffcdd2"/>
<rect x="917.30" y="1243.1" width="8.7" height="4.9" fill="#26a69a"/>
<rect x="928.01" y="1240.0" width="8.7" height="8.0" fill="#26a69a"/>
<rect x="938.72" y="1240.0" width="8.7" height="8.0" fill="#b2dfdb"/>
<rect x="949.43" y="1245.2" width="8.7" height="2.8" fill="#b2dfdb"/>
<rect x="960.14" y="1240.0" width="8.7" height="8.0" fill="#26a69a"/>
<rect x="970.85" y="1246.2" width="8.7" height="1.8" fill="#b2dfdb"/>
<rect x="981.56" y="1247.0" width="8.7" height="1.8" fill="#ff5252"/>
<rect x="992.27" y="1247.0" width="8.7" height="1.5" fill="#26a69a"/>
<rect x="1002.98" y="1241.0" width="8.7" height="7.0" fill="#26a69a"/>
<rect x="1013.69" y="1241.8" width="8.7" height="6.2" fill="#b2dfdb"/>
<rect x="1024.40" y="1225.0" width="8.7" height="23.0" fill="#26a69a"/>
<rect x="1035.11" y="1219.0" width="8.7" height="29.0" fill="#26a69a"/>
<rect x="1045.82" y="1210.0" width="8.7" height="38.0" fill="#26a69a"/>
<rect x="1056.53" y="1206.9" width="8.7" height="41.1" fill="#26a69a"/>
<rect x="1067.24" y="1209.0" width="8.7" height="39.0" fill="#b2dfdb"/>
<rect x="1077.95" y="1193.2" width="8.7" height="54.8" fill="#26a69a"/>
<rect x="1088.66" y="1190.9" width="8.7" height="57.1" fill="#26a69a"/>
<rect x="1099.37" y="1197.0" width="8.7" height="51.0" fill="#b2dfdb"/>
<rect x="1110.08" y="1206.9" width="8.7" height="41.1" fill="#b2dfdb"/>
<rect x="1120.79" y="1213.9" width="8.7" height="34.1" fill="#b2dfdb"/>
<rect x="1131.50" y="1218.0" width="8.7" height="30.0" fill="#b2dfdb"/>
<rect x="1142.21" y="1225.8" width="8.7" height="22.2" fill="#b2dfdb"/>
<rect x="1152.92" y="1228.9" width="8.7" height="19.1" fill="#b2dfdb"/>
<rect x="1163.63" y="1235.9" width="8.7" height="12.1" fill="#b2dfdb"/>
<rect x="1174.34" y="1243.9" width="8.7" height="4.1" fill="#b2dfdb"/>
<rect x="1185.05" y="1247.0" width="8.7" height="1.5" fill="#ff5252"/>
<rect x="1195.76" y="1247.0" width="8.7" height="7.7" fill="#ff5252"/>
<rect x="1206.47" y="1247.0" width="8.7" height="10.8" fill="#ff5252"/>
<rect x="1217.18" y="1247.0" width="8.7" height="12.9" fill="#ff5252"/>
<rect x="1227.89" y="1247.0" width="8.7" height="10.8" fill="#ffcdd2"/>
<rect x="1238.60" y="1247.0" width="8.7" height="2.5" fill="#ffcdd2"/>
<rect x="1249.31" y="1243.1" width="8.7" height="4.9" fill="#26a69a"/>
<rect x="1260.02" y="1241.0" width="8.7" height="7.0" fill="#26a69a"/>
<rect x="1270.73" y="1246.2" width="8.7" height="1.8" fill="#b2dfdb"/>
<rect x="1281.44" y="1247.0" width="8.7" height="2.5" fill="#ff5252"/>
<rect x="1292.15" y="1247.0" width="8.7" height="4.6" fill="#ff5252"/>
<rect x="1302.86" y="1247.0" width="8.7" height="6.9" fill="#ff5252"/>
<rect x="1313.57" y="1247.0" width="8.7" height="16.7" fill="#ff5252"/>
<rect x="1324.28" y="1247.0" width="8.7" height="18.8" fill="#ff5252"/>
<rect x="1334.99" y="1247.0" width="8.7" height="24.5" fill="#ff5252"/>
<rect x="1345.70" y="1247.0" width="8.7" height="30.4" fill="#ff5252"/>
<rect x="1356.41" y="1247.0" width="8.7" height="32.8" fill="#ff5252"/>
<rect x="1367.12" y="1247.0" width="8.7" height="30.4" fill="#ffcdd2"/>
<rect x="1377.83" y="1247.0" width="8.7" height="28.9" fill="#ffcdd2"/>
<rect x="1388.54" y="1247.0" width="8.7" height="31.7" fill="#ff5252"/>
<rect x="1399.25" y="1247.0" width="8.7" height="31.7" fill="#ff5252"/>
<rect x="1409.96" y="1247.0" width="8.7" height="31.7" fill="#ffcdd2"/>
<rect x="1420.67" y="1247.0" width="8.7" height="31.7" fill="#ff5252"/>
<rect x="1431.38" y="1247.0" width="8.7" height="30.4" fill="#ffcdd2"/>
<rect x="1442.09" y="1247.0" width="8.7" height="31.7" fill="#ff5252"/>
<rect x="1452.80" y="1247.0" width="8.7" height="40.8" fill="#ff5252"/>
<rect x="1463.51" y="1247.0" width="8.7" height="38.8" fill="#ffcdd2"/>
<rect x="1474.22" y="1247.0" width="8.7" height="38.8" fill="#ffcdd2"/>
<rect x="1484.93" y="1247.0" width="8.7" height="32.6" fill="#ffcdd2"/>
<rect x="1495.64" y="1247.0" width="8.7" height="31.8" fill="#ffcdd2"/>
<rect x="1506.35" y="1247.0" width="8.7" height="26.7" fill="#ffcdd2"/>
<rect x="1517.06" y="1247.0" width="8.7" height="15.8" fill="#ffcdd2"/>
<rect x="1527.77" y="1247.0" width="8.7" height="6.6" fill="#ffcdd2"/>
<rect x="1538.48" y="1247.0" width="8.7" height="2.7" fill="#ffcdd2"/>
<rect x="1549.19" y="1247.0" width="8.7" height="5.7" fill="#ff5252"/>
<rect x="1559.90" y="1247.0" width="8.7" height="18.6" fill="#ff5252"/>
<rect x="1570.61" y="1247.0" width="8.7" height="26.8" fill="#ff5252"/>
<rect x="1581.32" y="1247.0" width="8.7" height="23.6" fill="#ffcdd2"/>
<rect x="1592.03" y="1247.0" width="8.7" height="27.6" fill="#ff5252"/>
<rect x="1602.74" y="1247.0" width="8.7" height="25.9" fill="#ffcdd2"/>
<rect x="1613.45" y="1247.0" width="8.7" height="16.7" fill="#ffcdd2"/>
<rect x="1624.16" y="1247.0" width="8.7" height="10.8" fill="#ffcdd2"/>
<rect x="1634.87" y="1247.0" width="8.7" height="6.9" fill="#ffcdd2"/>
<rect x="1645.58" y="1247.2" width="8.7" height="1.5" fill="#26a69a"/>
<rect x="1656.29" y="1238.0" width="8.7" height="10.0" fill="#26a69a"/>
<rect x="1667.00" y="1229.0" width="8.7" height="19.0" fill="#26a69a"/>
<line x1="21" y1="1247.5" x2="1988" y2="1247.5" stroke="#9598a1" stroke-opacity="0.7" stroke-width="2" stroke-dasharray="10.5 11.5" stroke-dashoffset="1"/>
<polyline points="20.0,1219.3 31.0,1208.2 43.9,1198.4 63.3,1172.0 85.2,1150.0 115.0,1129.4 139.5,1123.5 153.7,1123.7 171.8,1126.8 183.4,1126.8 193.7,1123.7 205.4,1112.6 222.2,1093.2 239.0,1073.9 260.0,1050.0 350.0,1000.0 450.0,1050.0 462.4,1075.2 472.7,1089.4 483.0,1099.7 503.8,1111.3 516.7,1115.2 537.3,1120.4 558.0,1124.2 578.7,1139.7 599.4,1155.2 621.4,1167.4 643.3,1171.5 664.0,1174.6 676.1,1179.0 689.8,1191.4 707.9,1208.2 726.0,1230.2 741.5,1249.5 751.8,1261.2 762.2,1268.9 773.8,1274.1 782.8,1275.9 794.5,1276.7 813.8,1278.7 829.3,1281.8 844.8,1284.9 859.0,1287.5 868.0,1291.6 878.4,1298.6 891.3,1307.7 901.7,1311.5 912.0,1312.8 922.3,1311.5 932.7,1309.0 953.3,1306.4 966.2,1304.6 989.5,1303.8 1005.0,1303.0 1017.9,1300.7 1039.9,1288.3 1056.7,1274.1 1072.2,1258.6 1087.7,1239.2 1100.0,1222.4 1113.6,1208.2 1136.8,1190.9 1167.8,1178.0 1188.5,1177.2 1209.2,1182.4 1232.4,1186.8 1245.3,1186.2 1263.4,1183.1 1281.5,1182.9 1307.3,1185.7 1338.3,1199.2 1360.3,1215.2 1392.6,1235.3 1410.7,1249.5 1426.2,1262.5 1446.8,1276.7 1460.0,1285.8 1477.1,1302.1 1491.1,1310.7 1508.2,1322.4 1522.2,1326.3 1540.9,1327.8 1553.4,1329.0 1568.9,1336.8 1582.9,1343.9 1597.0,1352.7 1609.4,1358.6 1623.4,1363.6 1635.8,1365.2 1648.3,1365.2 1660.7,1361.3 1672.4,1357.4" fill="none" stroke="#ff6d00" stroke-width="2.2" stroke-linejoin="round"/>
<polyline points="20.0,1183.7 31.0,1164.3 43.9,1153.2 53.0,1137.2 63.3,1123.5 76.2,1113.9 87.8,1109.5 99.5,1106.2 117.5,1106.7 130.5,1110.6 140.8,1117.8 149.8,1125.0 161.5,1130.0 171.8,1134.6 182.0,1127.3 193.7,1111.3 201.5,1083.0 205.4,1072.6 215.0,1040.0 300.0,1000.0 400.0,1030.0 418.5,1074.6 430.0,1084.2 439.0,1102.3 450.8,1128.0 462.4,1147.5 472.2,1149.6 483.0,1139.7 494.7,1133.3 505.0,1132.0 514.0,1126.8 525.7,1128.1 536.0,1131.5 546.4,1128.1 558.0,1134.0 567.9,1159.1 580.0,1176.4 589.0,1180.3 600.7,1186.8 611.0,1188.0 622.0,1187.5 631.7,1177.2 644.0,1181.9 653.7,1179.0 664.0,1180.3 676.0,1195.3 686.5,1222.4 696.8,1235.3 708.0,1253.4 719.5,1271.5 730.6,1292.7 739.0,1298.6 750.5,1303.0 760.9,1300.4 772.5,1297.3 782.8,1285.7 794.5,1278.7 804.8,1282.3 815.1,1283.9 825.5,1287.0 837.0,1291.6 847.4,1295.3 857.8,1294.7 868.0,1307.7 878.4,1328.3 890.0,1338.7 901.7,1327.0 912.0,1316.7 922.3,1306.4 932.7,1301.2 943.0,1299.9 953.3,1303.8 964.4,1297.3 975.3,1302.0 985.6,1304.6 996.0,1303.8 1007.6,1295.3 1017.9,1294.7 1028.2,1272.8 1039.9,1259.9 1051.5,1237.9 1061.8,1226.3 1072.2,1219.3 1082.5,1190.1 1094.1,1174.6 1104.5,1166.9 1123.9,1166.1 1135.5,1162.2 1145.9,1164.3 1157.5,1162.2 1167.8,1166.1 1179.5,1174.6 1191.0,1178.5 1201.4,1186.2 1222.0,1195.3 1232.4,1195.3 1253.0,1179.8 1264.0,1175.9 1284.0,1185.0 1307.3,1190.1 1319.0,1204.3 1328.0,1210.8 1338.3,1221.9 1350.0,1236.6 1361.6,1247.0 1381.0,1256.0 1391.3,1265.8 1408.0,1278.0 1424.9,1289.0 1436.5,1295.3 1446.8,1303.8 1460.0,1322.4 1466.2,1327.0 1477.1,1338.2 1489.6,1340.7 1499.7,1347.0 1509.8,1348.0 1522.2,1339.8 1533.1,1332.2 1544.0,1329.0 1554.1,1333.3 1563.5,1350.0 1575.9,1364.4 1585.7,1366.4 1596.2,1377.9 1607.5,1381.5 1618.7,1376.4 1627.3,1372.6 1639.7,1370.1 1649.0,1364.4 1660.7,1351.2 1672.0,1337.6" fill="none" stroke="#2962ff" stroke-width="2.2" stroke-linejoin="round"/>
<circle cx="1649.8" cy="1363.6" r="30.6" fill="#4caf50" fill-opacity="0.2" stroke="#43a047" stroke-width="2.4"/>
</g>
<text x="2008" y="1142.1" font-size="24" fill="#b2b5be" textLength="101.4" lengthAdjust="spacingAndGlyphs">2,000.00</text>
<text x="2008" y="1256" font-size="24" fill="#b2b5be" textLength="49" lengthAdjust="spacingAndGlyphs">0.00</text>
<path d="M1988 1212.4H2096Q2100 1212.4 2100 1216.4V1241.7Q2100 1245.7 2096 1245.7H1988Z" fill="#26a69a"/>
<text x="2008" y="1236" font-size="24" fill="#fff" textLength="79.6" lengthAdjust="spacingAndGlyphs">345.63</text>
<path d="M1988 1321H2133.5Q2137.5 1321 2137.5 1325V1350.6Q2137.5 1354.6 2133.5 1354.6H1988Z" fill="#2962ff"/>
<path d="M1988 1355.8H2133.5Q2137.5 1355.8 2137.5 1359.8V1384.8Q2137.5 1388.8 2133.5 1388.8H1988Z" fill="#ff6d00"/>
<text x="2006.8" y="1344.3" font-size="24" fill="#fff" textLength="118.2" lengthAdjust="spacingAndGlyphs">−1,606.23</text>
<text x="2006.8" y="1378.8" font-size="24" fill="#fff" textLength="118.2" lengthAdjust="spacingAndGlyphs">−1,951.86</text>
<text x="203.4" y="1454.4" font-size="24" fill="#b2b5be" font-weight="bold" textLength="44.8" lengthAdjust="spacingAndGlyphs">Mar</text>
<text x="373.6" y="1454.4" font-size="24" fill="#b2b5be" textLength="27.0" lengthAdjust="spacingAndGlyphs">16</text>
<text x="536.7" y="1454.4" font-size="24" fill="#b2b5be" font-weight="bold" textLength="42.3" lengthAdjust="spacingAndGlyphs">Apr</text>
<text x="705.7" y="1454.4" font-size="24" fill="#b2b5be" textLength="27.0" lengthAdjust="spacingAndGlyphs">16</text>
<text x="855" y="1454.4" font-size="24" fill="#b2b5be" font-weight="bold" textLength="47.5" lengthAdjust="spacingAndGlyphs">May</text>
<text x="1026.8" y="1454.4" font-size="24" fill="#b2b5be" textLength="26.2" lengthAdjust="spacingAndGlyphs">16</text>
<text x="1189" y="1454.4" font-size="24" fill="#b2b5be" font-weight="bold" textLength="43.0" lengthAdjust="spacingAndGlyphs">Jun</text>
<text x="1358.8" y="1454.4" font-size="24" fill="#b2b5be" textLength="26.2" lengthAdjust="spacingAndGlyphs">16</text>
<text x="1515" y="1454.4" font-size="24" fill="#b2b5be" font-weight="bold" textLength="35.6" lengthAdjust="spacingAndGlyphs">Jul</text>
<text x="1679" y="1454.4" font-size="24" fill="#b2b5be" textLength="27.8" lengthAdjust="spacingAndGlyphs">16</text>
<text x="1841.5" y="1454.4" font-size="24" fill="#b2b5be" font-weight="bold" textLength="46.0" lengthAdjust="spacingAndGlyphs">Aug</text>
<text x="36.3" y="94" font-size="24" fill="#a3a6af" textLength="363" lengthAdjust="spacingAndGlyphs">Bitcoin / TetherUS, 1D, BINANCE</text>
<text x="415" y="94" font-size="24" fill="#a3a6af" textLength="17.0" lengthAdjust="spacingAndGlyphs">O</text>
<text x="432.7" y="94" font-size="24" fill="#4caf50" textLength="112.3" lengthAdjust="spacingAndGlyphs">59,204.01</text>
<text x="558.6" y="94" font-size="24" fill="#a3a6af" textLength="17.4" lengthAdjust="spacingAndGlyphs">H</text>
<text x="576.4" y="94" font-size="24" fill="#4caf50" textLength="111.4" lengthAdjust="spacingAndGlyphs">60,324.61</text>
<text x="703" y="94" font-size="24" fill="#a3a6af" textLength="12.0" lengthAdjust="spacingAndGlyphs">L</text>
<text x="716" y="94" font-size="24" fill="#4caf50" textLength="108.0" lengthAdjust="spacingAndGlyphs">59,194.01</text>
<text x="838.8" y="94" font-size="24" fill="#a3a6af" textLength="17.2" lengthAdjust="spacingAndGlyphs">C</text>
<text x="856.6" y="94" font-size="24" fill="#4caf50" textLength="114.0" lengthAdjust="spacingAndGlyphs">60,056.00</text>
<text x="986.7" y="94" font-size="24" fill="#4caf50" textLength="199.3" lengthAdjust="spacingAndGlyphs">+851.98 (+1.44%)</text>
<rect x="1996.5" y="62" width="143" height="52" rx="8" fill="#fff" stroke="#e0e3eb" stroke-width="1.5"/>
<text x="2014.8" y="96" font-size="24" fill="#131722" textLength="63.2" lengthAdjust="spacingAndGlyphs">USDT</text>
<g fill="#131722"><path d="M19.9 1496.2H35.2V1515.5H27.8V1503.8H19.9Z"/><circle cx="42.1" cy="1500.3" r="4"/><path d="M50.6 1496.2H59.2L51.1 1515.5H42.5Z"/></g>
<text x="67.3" y="1516.7" font-size="26" fill="#131722" textLength="147.7" lengthAdjust="spacingAndGlyphs">TradingView</text>
</svg></body></html>
